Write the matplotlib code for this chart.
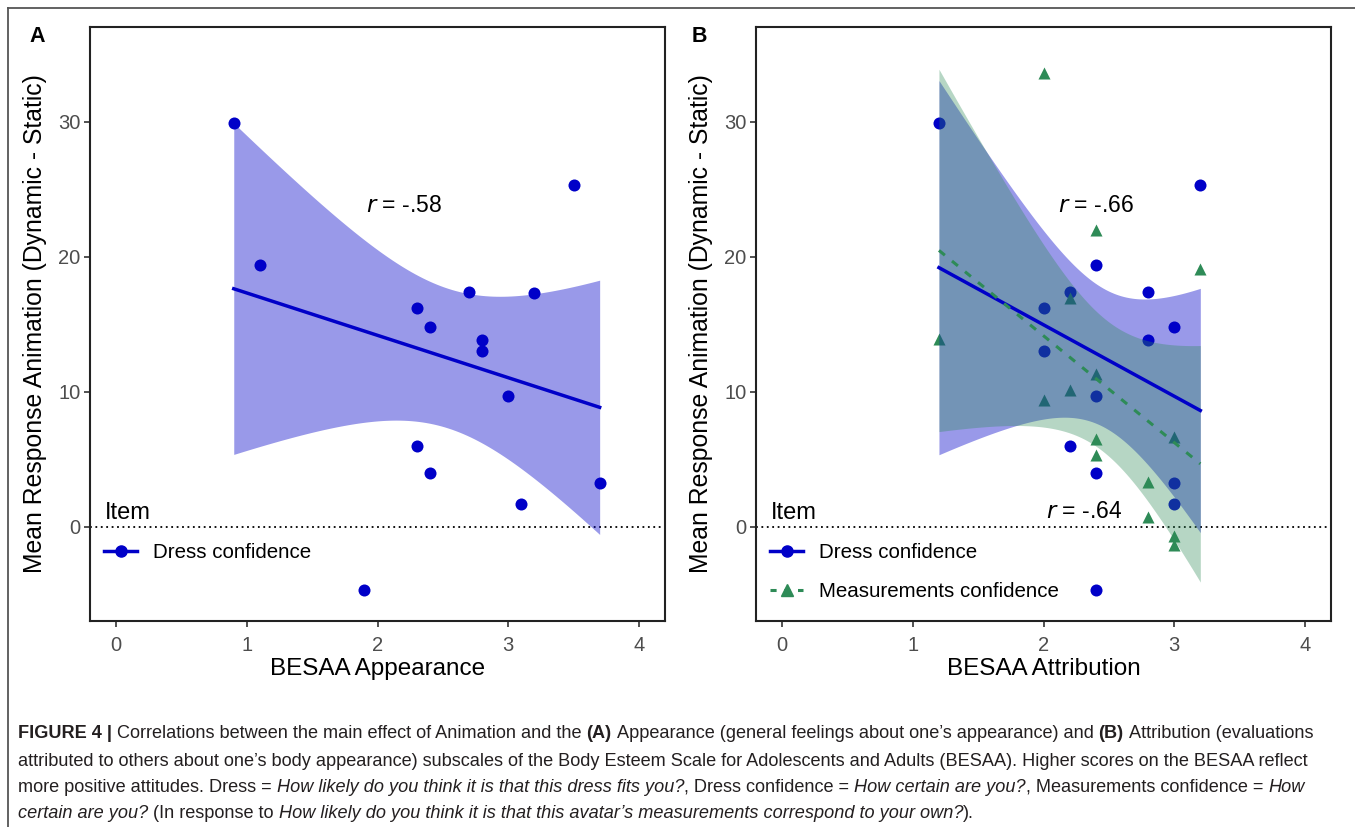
import numpy as np
import matplotlib
matplotlib.use("Agg")
import matplotlib.pyplot as plt
from matplotlib.lines import Line2D
from matplotlib import font_manager

# ---------------- data ----------------
appearance_x = [0.9, 1.1, 2.7, 3.2, 2.3, 2.4, 2.8, 2.8, 3.0, 2.3, 2.4, 3.1, 3.7, 3.5, 1.9]
dress_conf_y = [29.9, 19.4, 17.4, 17.3, 16.2, 14.8, 13.8, 13.0, 9.7, 6.0, 4.0, 1.7, 3.2, 25.3, -4.7]

attribution_x_dress = [1.2, 3.2, 2.4, 2.2, 2.8, 2.0, 3.0, 2.8, 2.0, 2.4, 2.2, 2.4, 3.0, 3.0, 2.4]
attribution_y_dress = [29.9, 25.3, 19.4, 17.4, 17.4, 16.2, 14.8, 13.8, 13.0, 9.7, 6.0, 4.0, 3.2, 1.7, -4.7]

attribution_x_meas = [2.0, 2.4, 3.2, 2.2, 1.2, 2.4, 2.2, 2.0, 3.0, 2.4, 2.4, 2.8, 2.8, 3.0, 3.0]
attribution_y_meas = [33.6, 22.0, 19.1, 16.9, 13.9, 11.3, 10.1, 9.4, 6.6, 6.5, 5.3, 3.3, 0.7, -0.7, -1.4]

x_ticks = [0, 1, 2, 3, 4]
y_ticks = [0, 10, 20, 30]
labels_items = ["Dress confidence", "Measurements confidence"]
r_texts = ["-.58", "-.66", "-.64"]

T_CRIT = 2.1604  # t quantile (0.975, df = 13) for the 95% CI of lm smooth

BLUE = "#0000C8"
GREEN = "#2E8B57"
FONT = ["Liberation Sans", "DejaVu Sans"]
plt.rcParams["font.family"] = FONT


def lm_band(x, y, n_pts=100):
    x = np.asarray(x, float)
    y = np.asarray(y, float)
    n = len(x)
    b1, b0 = np.polyfit(x, y, 1)
    xs = np.linspace(x.min(), x.max(), n_pts)
    yhat = b0 + b1 * xs
    resid = y - (b0 + b1 * x)
    s = np.sqrt(np.sum(resid ** 2) / (n - 2))
    se = s * np.sqrt(1.0 / n + (xs - x.mean()) ** 2 / np.sum((x - x.mean()) ** 2))
    return xs, yhat, yhat - T_CRIT * se, yhat + T_CRIT * se


W, H = 1355, 827
fig = plt.figure(figsize=(W / 100, H / 100), dpi=100)


def px_axes(l, t, r, b):
    return fig.add_axes([l / W, (H - b) / H, (r - l) / W, (b - t) / H])


axA = px_axes(90, 27, 665, 621)
axB = px_axes(756, 27, 1331, 621)


def style_axes(ax, xlabel):
    ax.set_xlim(-0.2, 4.2)
    ax.set_ylim(-7, 37)
    ax.set_xticks(x_ticks)
    ax.set_yticks(y_ticks)
    ax.tick_params(direction="out", length=4, width=1.2, color="#333333",
                   labelcolor="#4D4D4D", labelsize=14.5)
    ax.tick_params(axis="x", pad=7)
    ax.tick_params(axis="y", pad=3)
    for sp in ax.spines.values():
        sp.set_linewidth(1.5)
        sp.set_color("#222222")
    ax.axhline(0, color="black", linestyle=(0, (1, 2)), linewidth=1.3, zorder=1)
    ax.set_xlabel(xlabel, fontsize=17.5, color="black")
    ax.set_ylabel("Mean Response Animation (Dynamic - Static)", fontsize=17.8, color="black")
    ax.xaxis.set_label_coords(0.5, -0.063)
    ax.yaxis.set_label_coords(-0.075, 0.5)


LEG_KW = dict(title="Item", loc="upper left", frameon=False, fontsize=14.8,
              title_fontsize=17, handlelength=1.6, handletextpad=0.75,
              labelspacing=0.95, alignment="left", borderaxespad=0.3)

# ---------------- Panel A ----------------
axA.scatter(appearance_x, dress_conf_y, s=75, color=BLUE, zorder=2, linewidths=0)
xs, yh, lo, hi = lm_band(appearance_x, dress_conf_y)
axA.fill_between(xs, lo, hi, color=BLUE, alpha=0.4, linewidth=0, zorder=3)
axA.plot(xs, yh, color=BLUE, linewidth=2.5, zorder=4)
axA.text(2.2, 23.8, r"$\it{r}$ = " + r_texts[0], fontsize=16.5, ha="center", va="center")
style_axes(axA, "BESAA Appearance")

hA = [Line2D([], [], color=BLUE, linewidth=2.5, marker="o", markersize=8)]
axA.legend(hA, labels_items[:1], bbox_to_anchor=(0.0, 0.225), **LEG_KW)

# ---------------- Panel B ----------------
axB.scatter(attribution_x_dress, attribution_y_dress, s=75, color=BLUE, zorder=2, linewidths=0)
axB.scatter(attribution_x_meas, attribution_y_meas, s=75, color=GREEN, marker="^", zorder=2, linewidths=0)
xs, yh, lo, hi = lm_band(attribution_x_dress, attribution_y_dress)
axB.fill_between(xs, lo, hi, color=BLUE, alpha=0.4, linewidth=0, zorder=3)
xs2, yh2, lo2, hi2 = lm_band(attribution_x_meas, attribution_y_meas)
axB.fill_between(xs2, lo2, hi2, color=GREEN, alpha=0.35, linewidth=0, zorder=3)
axB.plot(xs, yh, color=BLUE, linewidth=2.5, zorder=4)
axB.plot(xs2, yh2, color=GREEN, linewidth=2.2, linestyle=(0, (2.5, 3)), zorder=4)
axB.text(2.40, 23.8, r"$\it{r}$ = " + r_texts[1], fontsize=16.5, ha="center", va="center")
axB.text(2.31, 1.1, r"$\it{r}$ = " + r_texts[2], fontsize=16.5, ha="center", va="center")
style_axes(axB, "BESAA Attribution")

hB = [Line2D([], [], color=BLUE, linewidth=2.5, marker="o", markersize=8),
      Line2D([], [], color=GREEN, linewidth=2.2, linestyle=(0, (2, 2.5)), marker="^", markersize=8)]
axB.legend(hB, labels_items, bbox_to_anchor=(0.0, 0.225), **LEG_KW)

# Panel letters
fig.text(29 / W, 1 - 37 / H, "A", fontsize=15.5, fontweight="bold", va="center", ha="left")
fig.text(692 / W, 1 - 37 / H, "B", fontsize=15.5, fontweight="bold", va="center", ha="left")

# outer frame lines (left + top)
fig.add_artist(Line2D([8 / W, 8 / W], [0, 1 - 8 / H], color="#555555", linewidth=1.3,
                      transform=fig.transFigure))
fig.add_artist(Line2D([8 / W, 1], [1 - 8 / H, 1 - 8 / H], color="#555555", linewidth=1.3,
                      transform=fig.transFigure))

# ---------------- Caption ----------------
available = {f.name for f in font_manager.fontManager.ttflist}
CAP_FONT = [f for f in ["Liberation Sans Narrow", "Liberation Sans", "DejaVu Sans"] if f in available]
caption_lines = [
    [("FIGURE 4 |", "bold", "normal"),
     (" Correlations between the main effect of Animation and the ", "normal", "normal"),
     ("(A)", "bold", "normal"),
     (" Appearance (general feelings about one’s appearance) and ", "normal", "normal"),
     ("(B)", "bold", "normal"),
     (" Attribution (evaluations", "normal", "normal")],
    [("attributed to others about one’s body appearance) subscales of the Body Esteem Scale for "
      "Adolescents and Adults (BESAA). Higher scores on the BESAA reflect", "normal", "normal")],
    [("more positive attitudes. Dress = ", "normal", "normal"),
     ("How likely do you think it is that this dress fits you?", "normal", "italic"),
     (", Dress confidence = ", "normal", "normal"),
     ("How certain are you?", "normal", "italic"),
     (", Measurements confidence = ", "normal", "normal"),
     ("How", "normal", "italic")],
    [("certain are you?", "normal", "italic"),
     (" (In response to ", "normal", "normal"),
     ("How likely do you think it is that this avatar’s measurements correspond to your own?", "normal", "italic"),
     (").", "normal", "normal")],
]
caption_y = [734, 761, 787, 813]

renderer = fig.canvas.get_renderer()


def text_width(s, size, weight, style):
    t = fig.text(0, 0, s, fontsize=size, fontweight=weight, fontstyle=style, family=CAP_FONT)
    w = t.get_window_extent(renderer).width
    t.remove()
    return w


def seg_width(s, size, weight, style):
    core = s.strip(" ")
    lead = len(s) - len(s.lstrip(" "))
    trail = len(s) - len(s.rstrip(" "))
    sp = text_width("a a", size, weight, style) - text_width("aa", size, weight, style)
    return lead, trail, sp, core, (text_width(core, size, weight, style) if core else 0)


# scale font so the second (full) line spans ~1300 px
base = 10.0
wline2 = text_width(caption_lines[1][0][0], base, "normal", "normal")
cap_size = base * 1300.0 / wline2

for segs, ypix in zip(caption_lines, caption_y):
    x = 18.0
    for s, weight, style in segs:
        lead, trail, sp, core, wcore = seg_width(s, cap_size, weight, style)
        x += lead * sp
        if core:
            fig.text(x / W, 1 - ypix / H, core, fontsize=cap_size, fontweight=weight,
                     fontstyle=style, family=CAP_FONT, color="#231F20", va="center", ha="left")
        x += wcore + trail * sp

fig.savefig("out.png", dpi=100)
